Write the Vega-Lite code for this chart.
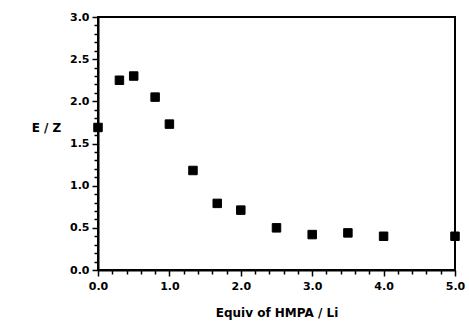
{
  "$schema": "https://vega.github.io/schema/vega-lite/v6.json",
  "autosize": "none",
  "width": 357,
  "height": 253,
  "padding": {"left": 98, "top": 17, "right": 14, "bottom": 56},
  "background": "white",
  "config": {
    "view": {"stroke": "black", "strokeWidth": 2},
    "font": "DejaVu Sans"
  },
  "data": {
    "values": [
      {"equiv": 0.0, "ez": 1.69},
      {"equiv": 0.3, "ez": 2.25},
      {"equiv": 0.5, "ez": 2.30},
      {"equiv": 0.8, "ez": 2.05},
      {"equiv": 1.0, "ez": 1.73},
      {"equiv": 1.33, "ez": 1.18},
      {"equiv": 1.67, "ez": 0.79},
      {"equiv": 2.0, "ez": 0.71},
      {"equiv": 2.5, "ez": 0.50},
      {"equiv": 3.0, "ez": 0.42},
      {"equiv": 3.5, "ez": 0.44},
      {"equiv": 4.0, "ez": 0.40},
      {"equiv": 5.0, "ez": 0.40}
    ]
  },
  "mark": {"type": "point", "shape": "square", "filled": true, "color": "black", "opacity": 1, "size": 72, "stroke": "black", "strokeWidth": 1},
  "encoding": {
    "x": {
      "field": "equiv",
      "type": "quantitative",
      "scale": {"domain": [0, 5], "nice": false, "zero": false},
      "axis": {
        "title": "Equiv of HMPA / Li",
        "titleFont": "DejaVu Sans",
        "titleFontSize": 12,
        "titleFontWeight": "bold",
        "titleColor": "black",
        "titlePadding": 16,
        "values": [0, 0.2, 0.4, 0.6, 0.8, 1, 1.2, 1.4, 1.6, 1.8, 2, 2.2, 2.4, 2.6, 2.8, 3, 3.2, 3.4, 3.6, 3.8, 4, 4.2, 4.4, 4.6, 4.8, 5],
        "labelExpr": "abs(datum.value - round(datum.value)) < 0.001 ? format(datum.value, '.1f') : ''",
        "labelFont": "DejaVu Sans",
        "labelFontSize": 11,
        "labelFontWeight": "bold",
        "labelColor": "black",
        "labelPadding": 4,
        "labelFlush": false,
        "labelOverlap": false,
        "grid": false,
        "domainColor": "black",
        "domainWidth": 2,
        "tickColor": "black",
        "tickWidth": 1.5,
        "tickSize": {"condition": {"test": "abs(datum.value - round(datum.value)) < 0.001", "value": 6}, "value": 4}
      }
    },
    "y": {
      "field": "ez",
      "type": "quantitative",
      "scale": {"domain": [0, 3], "nice": false},
      "axis": {
        "title": "E / Z",
        "titleFont": "DejaVu Sans",
        "titleFontSize": 12,
        "titleFontWeight": "bold",
        "titleColor": "black",
        "titleAngle": 0,
        "titleAlign": "center",
        "titleBaseline": "middle",
        "titleX": -52,
        "titleY": 110,
        "values": [0, 0.1, 0.2, 0.3, 0.4, 0.5, 0.6, 0.7, 0.8, 0.9, 1, 1.1, 1.2, 1.3, 1.4, 1.5, 1.6, 1.7, 1.8, 1.9, 2, 2.1, 2.2, 2.3, 2.4, 2.5, 2.6, 2.7, 2.8, 2.9, 3],
        "labelExpr": "abs(datum.value * 2 - round(datum.value * 2)) < 0.001 ? format(datum.value, '.1f') : ''",
        "labelFont": "DejaVu Sans",
        "labelFontSize": 11,
        "labelFontWeight": "bold",
        "labelColor": "black",
        "labelPadding": 3,
        "labelFlush": false,
        "labelOverlap": false,
        "grid": false,
        "domainColor": "black",
        "domainWidth": 2,
        "tickColor": "black",
        "tickWidth": 1.5,
        "tickSize": {"condition": {"test": "abs(datum.value * 2 - round(datum.value * 2)) < 0.001", "value": 6}, "value": 4}
      }
    }
  }
}
